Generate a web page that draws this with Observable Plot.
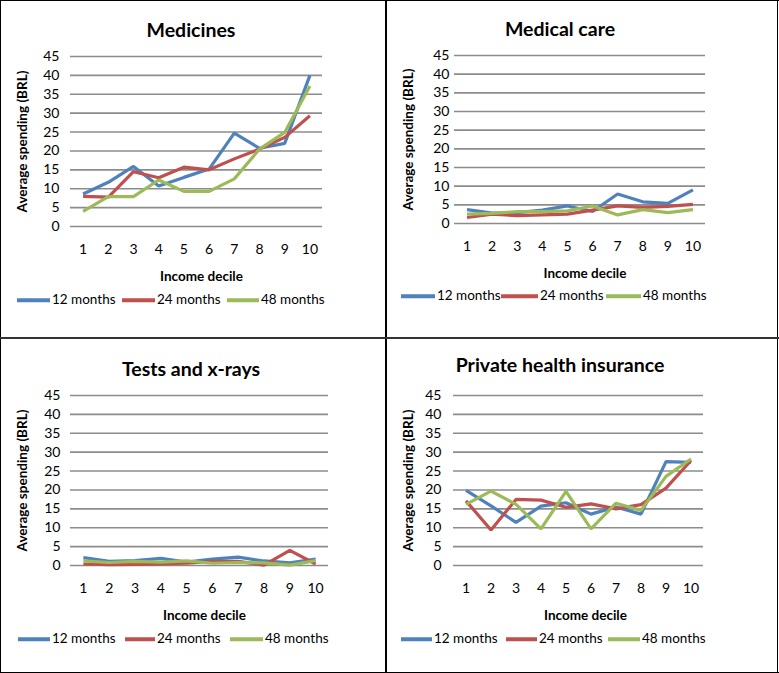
<!DOCTYPE html>
<html><head><meta charset="utf-8">
<script src="https://cdn.jsdelivr.net/npm/d3@7"></script>
<script src="https://cdn.jsdelivr.net/npm/@observablehq/plot@0.6"></script>
<style>
body{margin:0;background:#fff;font-family:Lato,"Open Sans",sans-serif;}
#wrap{position:relative;width:779px;height:673px;overflow:hidden;background:#fff;}
.panel{position:absolute;width:389px;height:336px;}
.panel svg{position:absolute;left:0;top:0;}
.title{position:absolute;font-weight:bold;font-size:19.5px;color:#000;white-space:nowrap;transform:translate(-50%,-50%);line-height:1;}
.leg{position:absolute;font-size:13.5px;color:#000;white-space:nowrap;transform:translateY(-50%);display:flex;align-items:center;line-height:1;}
.sw{display:inline-block;height:3.5px;margin-right:2px;}
.line{position:absolute;z-index:5;}
</style></head><body><div id="wrap"></div>
<script>
// ---- data ----
const deciles = [1, 2, 3, 4, 5, 6, 7, 8, 9, 10];
const seriesLabels = ["12 months", "24 months", "48 months"];
const yTicks = [0, 5, 10, 15, 20, 25, 30, 35, 40, 45];
const panelTitles = ["Medicines", "Medical care", "Tests and x-rays", "Private health insurance"];
const xAxisLabel = "Income decile";
const yAxisLabel = "Average spending (BRL)";

const medicines12 = [8.6, 11.7, 15.9, 10.7, 13.0, 15.2, 24.7, 20.7, 22.0, 40.0];
const medicines24 = [8.0, 7.8, 14.5, 12.9, 15.7, 15.0, 17.9, 20.5, 23.6, 29.3];
const medicines48 = [4.0, 7.9, 7.9, 12.3, 9.3, 9.3, 12.6, 20.5, 24.9, 37.2];

const medicalCare12 = [3.7, 2.8, 2.9, 3.6, 4.7, 3.2, 7.9, 5.8, 5.4, 9.0];
const medicalCare24 = [1.6, 2.5, 2.1, 2.3, 2.5, 3.6, 4.7, 4.3, 4.6, 5.1];
const medicalCare48 = [2.5, 2.7, 3.2, 3.2, 3.4, 4.7, 2.3, 3.7, 2.9, 3.7];

const tests12 = [2.1, 1.1, 1.3, 1.9, 0.9, 1.7, 2.2, 1.2, 0.7, 1.7];
const tests24 = [0.4, 0.2, 0.3, 0.4, 0.6, 1.1, 1.1, 0.1, 4.0, 0.4];
const tests48 = [1.2, 0.8, 1.1, 0.9, 1.2, 0.6, 0.8, 0.7, 0.1, 1.3];

const insurance12 = [19.9, 15.8, 11.4, 15.7, 16.6, 13.6, 15.5, 13.6, 27.5, 27.3];
const insurance24 = [17.1, 9.4, 17.5, 17.3, 15.4, 16.3, 15.0, 16.1, 20.5, 27.8];
const insurance48 = [16.2, 19.7, 16.2, 9.7, 19.6, 9.7, 16.5, 14.6, 23.6, 28.2];

// ---- styles / layout ----
const seriesColors = ["#4F81BD", "#C0504D", "#9BBB59"];
const panels = [
  {title: panelTitles[0], values: [medicines12, medicines24, medicines48], left: 0, top: 0,
   ml: 70, mr: 67, mt: 56, mb: 110, ytp: 11, ylab: 17, xlabDx: 5, titleX: 191, titleY: 30, legY: 300,
   leg: [[17, 33], [122, 33], [227, 32]]},
  {title: panelTitles[1], values: [medicalCare12, medicalCare24, medicalCare48], left: 388, top: 0,
   ml: 66, mr: 72, mt: 55, mb: 113, ytp: 5, ylab: 15, xlabDx: 5, titleX: 172, titleY: 29, legY: 296,
   leg: [[13, 34], [113, 37], [218, 35]]},
  {title: panelTitles[2], values: [tests12, tests24, tests48], left: 0, top: 336,
   ml: 70, mr: 61, mt: 59, mb: 107, ytp: 10, ylab: 17, xlabDx: 5, titleX: 191, titleY: 33, legY: 303,
   leg: [[18, 32], [125, 30], [230, 33]]},
  {title: panelTitles[3], values: [insurance12, insurance24, insurance48], left: 388, top: 336,
   ml: 65, mr: 74, mt: 59, mb: 107, ytp: 12, ylab: 15, xlabDx: 7, titleX: 172, titleY: 29, legY: 303,
   leg: [[13, 31], [118, 31], [220, 32]]}
];

const wrap = document.getElementById("wrap");

for (const p of panels) {
  const div = document.createElement("div");
  div.className = "panel";
  div.style.left = p.left + "px";
  div.style.top = p.top + "px";

  const rows = [];
  p.values.forEach((arr, si) => arr.forEach((v, i) => rows.push({decile: deciles[i], value: v, series: seriesLabels[si]})));

  const chart = Plot.plot({
    width: 389, height: 336,
    marginLeft: p.ml, marginRight: p.mr, marginTop: p.mt, marginBottom: p.mb,
    style: {background: "transparent", fontFamily: "Lato, 'Open Sans', sans-serif", fontSize: "14px", color: "#000", overflow: "visible"},
    x: {domain: [0.5, 10.5], ticks: deciles, tickSize: 0, tickPadding: 18, tickFormat: d => String(d), label: null},
    y: {domain: [0, 45], ticks: yTicks, tickSize: 0, tickPadding: p.ytp, label: null},
    color: {domain: seriesLabels, range: seriesColors},
    marks: [
      Plot.ruleY(yTicks, {stroke: "#8c8c8c", strokeWidth: 1.6}),
      Plot.line(rows, {x: "decile", y: "value", z: "series", stroke: "series", strokeWidth: 3.2, strokeLinejoin: "miter", strokeLinecap: "butt"}),
      Plot.text([xAxisLabel], {text: d => d, frameAnchor: "bottom", lineAnchor: "middle", dy: 50, dx: p.xlabDx, fontWeight: "bold", fontSize: 13.5}),
      Plot.text([yAxisLabel], {text: d => d, frameAnchor: "left", textAnchor: "middle", lineAnchor: "top", rotate: -90, dx: -(p.ml - p.ylab), fontWeight: "bold", fontSize: 13.5})
    ]
  });
  div.appendChild(chart);

  const t = document.createElement("div");
  t.className = "title";
  t.textContent = p.title;
  t.style.left = p.titleX + "px";
  t.style.top = p.titleY + "px";
  div.appendChild(t);

  seriesLabels.forEach((s, i) => {
    const item = document.createElement("div");
    item.className = "leg";
    item.style.left = p.leg[i][0] + "px";
    item.style.top = p.legY + "px";
    const sw = document.createElement("span");
    sw.className = "sw";
    sw.style.width = p.leg[i][1] + "px";
    sw.style.background = seriesColors[i];
    item.appendChild(sw);
    item.appendChild(document.createTextNode(s));
    div.appendChild(item);
  });

  wrap.appendChild(div);
}

// frame lines
function addLine(l, t, w, h, c) {
  const d = document.createElement("div");
  d.className = "line";
  Object.assign(d.style, {left: l + "px", top: t + "px", width: w + "px", height: h + "px", background: c});
  wrap.appendChild(d);
}
addLine(0, 0, 779, 1, "#000");
addLine(0, 0, 1, 673, "#000");
addLine(777, 0, 1, 673, "#000");
addLine(0, 672, 779, 1, "#000");
addLine(385, 0, 2, 673, "#000");
addLine(0, 337, 779, 2, "#333");
</script></body></html>
